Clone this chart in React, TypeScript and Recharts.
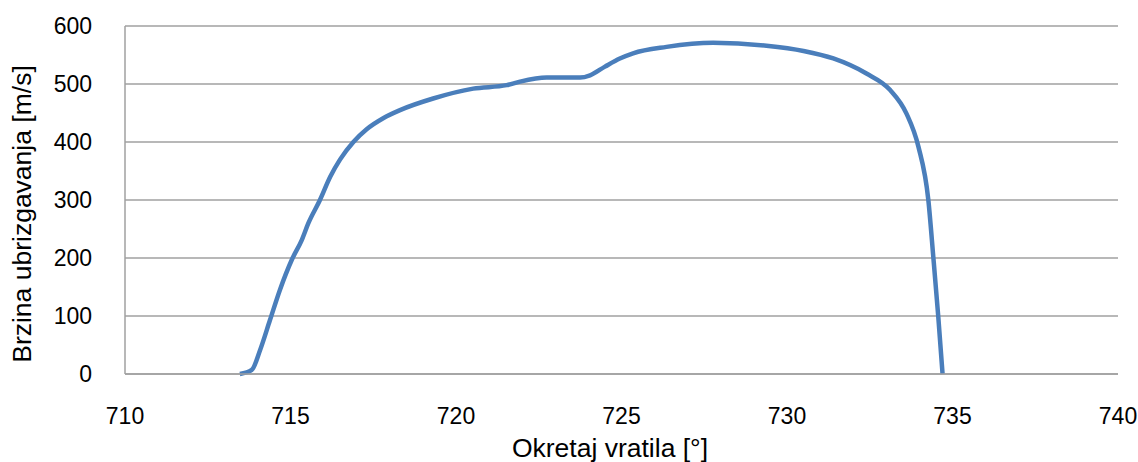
import React from "react";
import { LineChart, Line, XAxis, YAxis, CartesianGrid } from "recharts";

const angles = [
  713.47, 713.83, 714.08, 714.38, 714.68, 715.04, 715.34, 715.54, 715.89, 716.2,
  716.5, 716.9, 717.3, 717.8, 718.31, 719.31, 720.52, 721.53, 721.93, 722.74,
  723.75, 724.05, 724.5, 724.95, 725.35, 726.36, 727.77, 729.38, 730.5, 731.4,
  732.4, 733.11, 733.61, 733.97, 734.27, 734.42, 734.57, 734.7,
];
const speeds = [
  0, 7, 41, 93, 145, 197, 231, 260, 300, 340,
  370, 400, 422, 441, 455, 475, 492, 498, 504, 511,
  511, 515, 530, 544, 553, 564, 571, 566, 557, 544,
  518, 490, 449, 392, 300, 202, 99, 0,
];
const xTicks = [710, 715, 720, 725, 730, 735, 740];
const yTicks = [0, 100, 200, 300, 400, 500, 600];

const data = angles.map((a, i) => ({ angle: a, speed: speeds[i] }));

const FONT = "'Liberation Sans', Arial, sans-serif";

const XTick = (props: any) => {
  const { x, y, payload } = props;
  return (
    <text x={x} y={y + 42} textAnchor="middle" fontSize={23} fontFamily={FONT} fill="#000">
      {payload.value}
    </text>
  );
};

const YTick = (props: any) => {
  const { x, y, payload } = props;
  return (
    <text x={x - 25} y={y + 8} textAnchor="end" fontSize={23} fontFamily={FONT} fill="#000">
      {payload.value}
    </text>
  );
};

const XTitle = () => (
  <text x={610} y={457} textAnchor="middle" fontSize={26.5} fontFamily={FONT} fill="#000">
    Okretaj vratila [°]
  </text>
);

const YTitle = () => (
  <text
    x={0}
    y={0}
    transform="translate(31,214) rotate(-90)"
    textAnchor="middle"
    fontSize={26.5}
    fontFamily={FONT}
    fill="#000"
  >
    Brzina ubrizgavanja [m/s]
  </text>
);

export default function App() {
  return (
    <div style={{ position: "absolute", left: 0, top: 0, width: 1138, height: 462, background: "#fff" }}>
      <LineChart
        width={1138}
        height={462}
        data={data}
        margin={{ top: 26, right: 20, left: 0, bottom: 0 }}
      >
        <CartesianGrid vertical={false} stroke="#a0a0a0" strokeWidth={1.5} />
        <XAxis
          dataKey="angle"
          type="number"
          domain={[710, 740]}
          ticks={xTicks}
          height={88}
          tick={<XTick />}
          tickLine={false}
          axisLine={{ stroke: "#a0a0a0", strokeWidth: 1.5 }}
          label={{ content: () => <XTitle /> }}
        />
        <YAxis
          type="number"
          domain={[0, 600]}
          ticks={yTicks}
          width={125}
          tick={<YTick />}
          tickLine={false}
          axisLine={{ stroke: "#a0a0a0", strokeWidth: 1.5 }}
          label={{ content: () => <YTitle /> }}
        />
        <Line
          type="monotone"
          dataKey="speed"
          stroke="#4a7ebb"
          strokeWidth={4.5}
          dot={false}
          isAnimationActive={false}
        />
      </LineChart>
    </div>
  );
}
